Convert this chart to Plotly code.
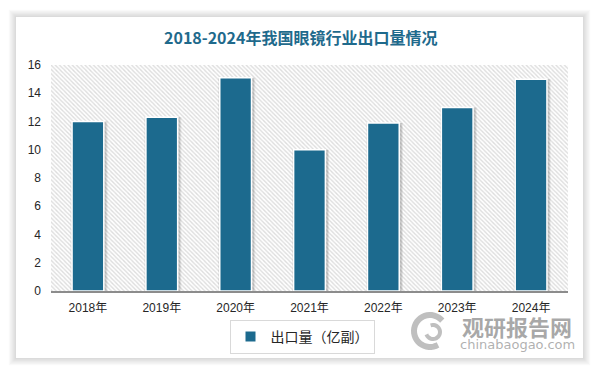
import math
import plotly.graph_objects as go

years = ["2018年", "2019年", "2020年", "2021年", "2022年", "2023年", "2024年"]
export_volume = [12.0, 12.3, 15.1, 10.0, 11.9, 13.0, 15.0]
series_name = "出口量（亿副）"
title_text = "2018-2024年我国眼镜行业出口量情况"
y_ticks = [0, 2, 4, 6, 8, 10, 12, 14, 16]

W, H = 596, 371
L, R, T, B = 51, 28, 65, 80
pw, ph = W - L - R, H - T - B


def px(x):
    return (x - L) / pw


def py(y):
    return (H - B - y) / ph


bar_color = "#1c6a8e"
fig = go.Figure()

# hatched plot background (decoration on hidden base axis)
fig.add_trace(go.Bar(
    x=[0.5], y=[max(y_ticks)], width=[1], xaxis="x", yaxis="y",
    marker=dict(color="white", line=dict(width=0),
                pattern=dict(shape="\\", fgcolor="#bcbcbc", bgcolor="white", size=3, solidity=0.45)),
    showlegend=False, hoverinfo="skip"))

# soft bar shadows
fig.add_trace(go.Bar(
    x=years, y=export_volume, xaxis="x2", yaxis="y", width=0.5, offset=-0.235,
    marker=dict(color="rgba(0,0,0,0.08)", line=dict(width=0)),
    showlegend=False, hoverinfo="skip"))
fig.add_trace(go.Bar(
    x=years, y=export_volume, xaxis="x2", yaxis="y", width=0.46, offset=-0.21,
    marker=dict(color="rgba(0,0,0,0.12)", line=dict(width=0)),
    showlegend=False, hoverinfo="skip"))

fig.add_trace(go.Bar(
    x=years, y=export_volume, xaxis="x2", yaxis="y", width=0.43, offset=-0.215,
    name=series_name,
    marker=dict(color=bar_color, line=dict(color="white", width=1.5))))

shapes = []
# card shadow
for i in range(6):
    d = 1.2 * (i + 1)
    shapes.append(dict(type="rect", xref="paper", yref="paper", layer="below",
                       x0=px(16 - d), x1=px(583 + d), y0=py(358 + d), y1=py(17 - d),
                       fillcolor="rgba(0,0,0,0.022)", line=dict(width=0)))
shapes.append(dict(type="rect", xref="paper", yref="paper", layer="below",
                   x0=px(16), x1=px(583), y0=py(358), y1=py(17),
                   fillcolor="white", line=dict(width=0)))


def arc_path(cx, cy, r, a0, a1, n=30):
    pts = []
    for k in range(n + 1):
        a = math.radians(a0 + (a1 - a0) * k / n)
        pts.append((px(cx + r * math.cos(a)), py(cy - r * math.sin(a))))
    return "M " + " L ".join(f"{x:.5f},{y:.5f}" for x, y in pts)


# watermark swirl logo
shapes.append(dict(type="path", xref="paper", yref="paper", layer="above",
                   path=arc_path(430, 331, 16, 40, 300),
                   line=dict(color="rgba(170,170,170,0.75)", width=6)))
shapes.append(dict(type="path", xref="paper", yref="paper", layer="above",
                   path=arc_path(433, 332, 7, 200, 470),
                   line=dict(color="rgba(170,170,170,0.75)", width=4)))

annotations = [
    dict(text="<b>" + title_text + "</b>", xref="paper", yref="paper",
         x=px(300), y=py(37), xanchor="center", yanchor="middle", showarrow=False,
         font=dict(family="Noto Sans CJK SC", size=16, color="#1f6a8c")),
    dict(text="<b>观研报告网</b>", xref="paper", yref="paper",
         x=px(517), y=py(326), xanchor="center", yanchor="middle", showarrow=False,
         font=dict(family="Noto Sans CJK SC", size=22, color="rgba(140,140,140,0.75)")),
    dict(text="chinabaogao.com", xref="paper", yref="paper",
         x=px(517), y=py(344), xanchor="center", yanchor="middle", showarrow=False,
         font=dict(family="DejaVu Sans", size=13, color="rgba(150,150,150,0.75)")),
]

fig.update_layout(
    width=W, height=H,
    margin=dict(l=L, r=R, t=T, b=B),
    paper_bgcolor="white", plot_bgcolor="rgba(0,0,0,0)",
    barmode="overlay", bargap=0.57,
    font=dict(family="Liberation Sans, Noto Sans CJK SC", size=12, color="#262626"),
    xaxis=dict(range=[0, 1], visible=False, fixedrange=True),
    xaxis2=dict(overlaying="x", type="category", range=[-0.5, 6.5],
                showline=True, linecolor="#8c8c8c", linewidth=1.5,
                ticks="", showgrid=False, zeroline=False, ticklabelstandoff=5,
                tickfont=dict(family="Liberation Sans, Noto Sans CJK SC", size=12, color="#262626")),
    yaxis=dict(range=[0, 16], tickvals=y_ticks, showgrid=False, zeroline=False,
               showline=False, ticks="", ticklabelstandoff=9,
               tickfont=dict(family="Liberation Sans", size=12, color="#262626")),
    legend=dict(orientation="h", x=px(302), y=py(337), xanchor="center", yanchor="middle",
                bordercolor="#d9d9d9", borderwidth=1, bgcolor="white",
                font=dict(family="Noto Sans CJK SC", size=14, color="#262626"),
                itemsizing="constant"),
    shapes=shapes, annotations=annotations,
)

fig.write_html("out.html", config={"displayModeBar": False},
               post_script="document.body.style.margin='0';document.body.style.overflow='hidden';")
